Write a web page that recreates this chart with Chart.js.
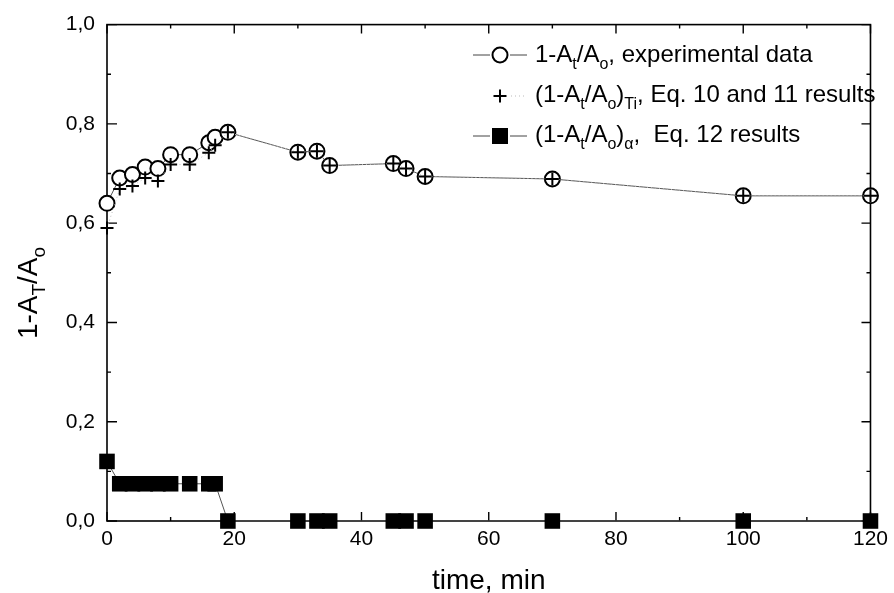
<!DOCTYPE html>
<html lang="en">
<head>
<meta charset="UTF-8">
<title>1-At/Ao vs time</title>
<script src="https://cdn.jsdelivr.net/npm/chart.js"></script>
<style>
  html, body { margin: 0; padding: 0; background: #fff; }
</style>
</head>
<body>
<canvas id="absChart" width="894" height="593"></canvas>
<script>
  // sampling times, min
  const timeMin = [0, 2, 4, 6, 8, 10, 13, 16, 17, 19, 30, 33, 35, 45, 47, 50, 70, 100, 120];
  // 1-At/Ao, experimental
  const expData = [0.640, 0.691, 0.698, 0.713, 0.710, 0.738, 0.738, 0.762, 0.773, 0.783,
                   0.743, 0.745, 0.716, 0.720, 0.710, 0.694, 0.689, 0.655, 0.655];
  // (1-At/Ao)Ti, Eq. 10 and 11
  const tiData = [0.590, 0.669, 0.675, 0.691, 0.685, 0.718, 0.718, 0.742, 0.757, 0.783,
                  0.743, 0.745, 0.716, 0.720, 0.710, 0.694, 0.689, 0.655, 0.655];
  // (1-At/Ao)alpha, Eq. 12
  const alphaData = [0.120, 0.075, 0.075, 0.075, 0.075, 0.075, 0.075, 0.075, 0.075, 0,
                     0, 0, 0, 0, 0, 0, 0, 0, 0];

  const xTicks = [0, 20, 40, 60, 80, 100, 120];
  const yTicks = [0, 0.2, 0.4, 0.6, 0.8, 1.0];

  const FONT = '"Liberation Sans", Arial, Helvetica, sans-serif';

  function pts(ys) {
    return timeMin.map((t, i) => ({ x: t, y: ys[i] }));
  }

  // draws text with subscript pieces, returns end x
  function drawRich(ctx, parts, x, y, size) {
    parts.forEach(p => {
      const fs = p.sub ? Math.round(size * 0.68) : size;
      ctx.font = fs + 'px ' + FONT;
      ctx.fillText(p.t, x, y + (p.sub ? size * 0.28 : 0));
      x += ctx.measureText(p.t).width;
    });
    return x;
  }
  function richWidth(ctx, parts, size) {
    let w = 0;
    parts.forEach(p => {
      const fs = p.sub ? Math.round(size * 0.68) : size;
      ctx.font = fs + 'px ' + FONT;
      w += ctx.measureText(p.t).width;
    });
    return w;
  }

  const frameTicks = {
    id: 'frameTicks',
    beforeDatasetsDraw(chart) {
      const ctx = chart.ctx;
      const { left, right, top, bottom } = chart.chartArea;
      const xs = chart.scales.x, ys = chart.scales.y;
      ctx.save();
      ctx.strokeStyle = '#000';
      ctx.lineWidth = 1.6;
      ctx.strokeRect(left, top, right - left, bottom - top);

      ctx.lineWidth = 1.4;
      ctx.beginPath();
      for (let i = 0; i < xTicks.length; i++) {
        let px = xs.getPixelForValue(xTicks[i]);
        ctx.moveTo(px, bottom); ctx.lineTo(px, bottom - 9);
        ctx.moveTo(px, top); ctx.lineTo(px, top + 9);
        if (i < xTicks.length - 1) {
          px = xs.getPixelForValue((xTicks[i] + xTicks[i + 1]) / 2);
          ctx.moveTo(px, bottom); ctx.lineTo(px, bottom - 4);
          ctx.moveTo(px, top); ctx.lineTo(px, top + 4);
        }
      }
      for (let i = 0; i < yTicks.length; i++) {
        let py = ys.getPixelForValue(yTicks[i]);
        ctx.moveTo(left, py); ctx.lineTo(left + 10, py);
        ctx.moveTo(right, py); ctx.lineTo(right - 9, py);
        if (i < yTicks.length - 1) {
          py = ys.getPixelForValue((yTicks[i] + yTicks[i + 1]) / 2);
          ctx.moveTo(left, py); ctx.lineTo(left + 4, py);
          ctx.moveTo(right, py); ctx.lineTo(right - 4, py);
        }
      }
      ctx.stroke();
      ctx.restore();
    },
    afterDraw(chart) {
      const ctx = chart.ctx;
      const { left, right } = chart.chartArea;
      ctx.save();
      ctx.fillStyle = '#000';
      ctx.textBaseline = 'alphabetic';
      ctx.textAlign = 'left';

      // axis titles
      ctx.font = '28px ' + FONT;
      const xTitle = 'time, min';
      ctx.fillText(xTitle, (left + right) / 2 - ctx.measureText(xTitle).width / 2, 589);

      const yTitle = [{ t: '1-A' }, { t: 'T', sub: true }, { t: '/A' }, { t: 'o', sub: true }];
      ctx.translate(37, 293);
      ctx.rotate(-Math.PI / 2);
      drawRich(ctx, yTitle, -richWidth(ctx, yTitle, 28) / 2, 0, 28);
      ctx.setTransform(1, 0, 0, 1, 0, 0);

      // legend
      const lx = 500, tx = 535, size = 24;
      const rows = [
        { y: 55, base: 62, parts: [{ t: '1-A' }, { t: 't', sub: true }, { t: '/A' }, { t: 'o', sub: true }, { t: ', experimental data' }] },
        { y: 96, base: 102, parts: [{ t: '(1-A' }, { t: 't', sub: true }, { t: '/A' }, { t: 'o', sub: true }, { t: ')' }, { t: 'Ti', sub: true }, { t: ', Eq. 10 and 11 results' }] },
        { y: 136, base: 142, parts: [{ t: '(1-A' }, { t: 't', sub: true }, { t: '/A' }, { t: 'o', sub: true }, { t: ')' }, { t: '\u03b1', sub: true }, { t: ',  Eq. 12 results' }] }
      ];

      // sample lines
      ctx.strokeStyle = '#444';
      ctx.lineWidth = 1;
      ctx.beginPath();
      ctx.moveTo(lx - 27, rows[0].y); ctx.lineTo(lx - 10, rows[0].y);
      ctx.moveTo(lx + 10, rows[0].y); ctx.lineTo(lx + 27, rows[0].y);
      ctx.moveTo(lx - 27, rows[2].y); ctx.lineTo(lx - 10, rows[2].y);
      ctx.moveTo(lx + 10, rows[2].y); ctx.lineTo(lx + 27, rows[2].y);
      ctx.stroke();
      ctx.strokeStyle = '#bbb';
      ctx.setLineDash([1, 3]);
      ctx.beginPath();
      ctx.moveTo(lx + 11, rows[1].y); ctx.lineTo(lx + 27, rows[1].y);
      ctx.stroke();
      ctx.setLineDash([]);

      // sample markers
      ctx.strokeStyle = '#000';
      ctx.lineWidth = 2;
      ctx.fillStyle = '#fff';
      ctx.beginPath();
      ctx.arc(lx, rows[0].y, 7.5, 0, Math.PI * 2);
      ctx.fill(); ctx.stroke();
      ctx.beginPath();
      ctx.moveTo(lx - 6.5, rows[1].y); ctx.lineTo(lx + 6.5, rows[1].y);
      ctx.moveTo(lx, rows[1].y - 6.5); ctx.lineTo(lx, rows[1].y + 6.5);
      ctx.stroke();
      ctx.fillStyle = '#000';
      ctx.fillRect(lx - 8, rows[2].y - 8, 16, 16);

      rows.forEach(r => drawRich(ctx, r.parts, tx, r.base, size));
      ctx.restore();
    }
  };

  new Chart(document.getElementById('absChart'), {
    type: 'line',
    data: {
      datasets: [
        {
          label: '(1-At/Ao)Ti, Eq. 10 and 11 results',
          data: pts(tiData),
          order: 0,
          borderColor: '#bbb',
          borderWidth: 1,
          borderDash: [1, 3],
          pointStyle: 'cross',
          pointRadius: 6.5,
          pointBorderWidth: 2,
          pointBorderColor: '#000',
          clip: false
        },
        {
          label: '1-At/Ao, experimental data',
          data: pts(expData),
          order: 1,
          borderColor: '#555',
          borderWidth: 1,
          pointStyle: 'circle',
          pointRadius: 7.5,
          pointBorderWidth: 2,
          pointBorderColor: '#000',
          pointBackgroundColor: '#fff',
          clip: false
        },
        {
          label: '(1-At/Ao)\u03b1, Eq. 12 results',
          data: pts(alphaData),
          order: 2,
          borderColor: '#555',
          borderWidth: 1,
          pointStyle: 'rect',
          pointRadius: 11,
          pointBorderWidth: 0,
          pointBackgroundColor: '#000',
          clip: false
        }
      ]
    },
    options: {
      responsive: false,
      animation: false,
      devicePixelRatio: 1,
      layout: { padding: { top: 23, right: 18, left: 0, bottom: 0 } },
      plugins: {
        legend: { display: false },
        tooltip: { enabled: false }
      },
      scales: {
        x: {
          type: 'linear',
          min: 0,
          max: 120,
          afterBuildTicks: s => { s.ticks = xTicks.map(v => ({ value: v })); },
          afterFit: s => { s.height = 72; },
          grid: { display: false, drawTicks: false },
          border: { display: false },
          ticks: { color: '#000', padding: 6, font: { size: 21, family: FONT } }
        },
        y: {
          type: 'linear',
          min: 0,
          max: 1,
          afterBuildTicks: s => { s.ticks = yTicks.map(v => ({ value: v })); },
          afterFit: s => { s.width = 107; },
          grid: { display: false, drawTicks: false },
          border: { display: false },
          ticks: {
            color: '#000',
            padding: 12,
            font: { size: 21, family: FONT },
            callback: v => v.toFixed(1).replace('.', ',')
          }
        }
      }
    },
    plugins: [frameTicks]
  });
</script>
</body>
</html>
